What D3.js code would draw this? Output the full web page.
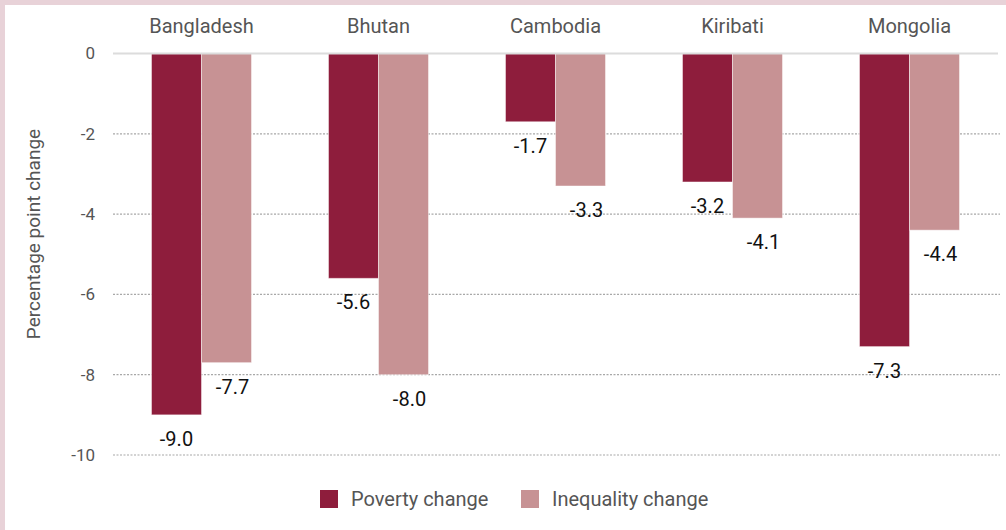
<!DOCTYPE html>
<html>
<head>
<meta charset="utf-8">
<script src="https://cdn.jsdelivr.net/npm/d3@7"></script>
<style>
  html, body { margin: 0; padding: 0; background: #fff; }
  #chart { width: 1006px; height: 530px; }
  text { font-family: "Liberation Sans Narrow", "Roboto", sans-serif; }
</style>
</head>
<body>
<div id="chart"></div>
<script>
// chart values
const countries = ["Bangladesh", "Bhutan", "Cambodia", "Kiribati", "Mongolia"];
const povertyChange = [-9.0, -5.6, -1.7, -3.2, -7.3];
const inequalityChange = [-7.7, -8.0, -3.3, -4.1, -4.4];
const seriesNames = ["Poverty change", "Inequality change"];
const yTicks = [0, -2, -4, -6, -8, -10];

const width = 1006;
const height = 530;
const colors = ["#8e1d3c", "#c79294"];

const svg = d3.select("#chart")
    .append("svg")
    .attr("width", width)
    .attr("height", height);

// pink frame on top and left
svg.append("rect")
    .attr("x", 0).attr("y", 0)
    .attr("width", width).attr("height", height)
    .attr("fill", "#e8d2d8");
svg.append("rect")
    .attr("x", 5).attr("y", 5)
    .attr("width", width - 5).attr("height", height - 5)
    .attr("fill", "#fff");

const x = d3.scaleBand()
    .domain(countries)
    .range([113, 998])
    .paddingInner(0.435)
    .paddingOuter(0.2175);

const xSub = d3.scaleBand()
    .domain(seriesNames)
    .range([0, x.bandwidth()]);

const y = d3.scaleLinear()
    .domain([-10, 0])
    .range([455, 53.5]);

// gridlines
svg.append("g")
    .selectAll("line")
    .data(yTicks.filter(d => d !== 0))
    .enter()
    .append("line")
    .attr("x1", 113)
    .attr("x2", 1000)
    .attr("y1", d => y(d))
    .attr("y2", d => y(d))
    .attr("stroke", "#a8a8a8")
    .attr("stroke-width", 1.2)
    .attr("stroke-dasharray", "2,1.5");

// y tick labels
svg.append("g")
    .selectAll("text")
    .data(yTicks)
    .enter()
    .append("text")
    .attr("x", 95)
    .attr("y", d => y(d))
    .attr("dy", "0.35em")
    .attr("text-anchor", "end")
    .attr("font-size", "17px")
    .attr("fill", "#555")
    .text(d => d);

// y axis title
svg.append("text")
    .attr("transform", "translate(40,234) rotate(-90)")
    .attr("text-anchor", "middle")
    .attr("font-size", "19px")
    .attr("fill", "#555")
    .text("Percentage point change");

// category labels at top
svg.append("g")
    .selectAll("text")
    .data(countries)
    .enter()
    .append("text")
    .attr("x", d => x(d) + x.bandwidth() / 2)
    .attr("y", 33)
    .attr("text-anchor", "middle")
    .attr("font-size", "20px")
    .attr("fill", "#555")
    .text(d => d);

const rows = [];
countries.forEach((c, i) => {
    rows.push({ country: c, series: seriesNames[0], value: povertyChange[i], color: colors[0] });
    rows.push({ country: c, series: seriesNames[1], value: inequalityChange[i], color: colors[1] });
});

// bars
svg.append("g")
    .selectAll("rect")
    .data(rows)
    .enter()
    .append("rect")
    .attr("x", d => x(d.country) + xSub(d.series))
    .attr("y", y(0))
    .attr("width", xSub.bandwidth())
    .attr("height", d => y(d.value) - y(0))
    .attr("fill", d => d.color)
    .attr("stroke", "#fff")
    .attr("stroke-opacity", 0.45)
    .attr("stroke-width", 1);

// zero line
svg.append("line")
    .attr("x1", 113)
    .attr("x2", 998)
    .attr("y1", y(0))
    .attr("y2", y(0))
    .attr("stroke", "#dcdcdc")
    .attr("stroke-width", 2);

// value labels
svg.append("g")
    .selectAll("text")
    .data(rows)
    .enter()
    .append("text")
    .attr("x", d => x(d.country) + xSub(d.series) + xSub.bandwidth() / 2 + (d.series === seriesNames[1] ? 6 : 0))
    .attr("y", d => y(d.value) + 24)
    .attr("dy", "0.35em")
    .attr("text-anchor", "middle")
    .attr("font-size", "20px")
    .attr("fill", "#111")
    .text(d => d.value.toFixed(1));

// legend
const legend = svg.append("g")
    .selectAll("g")
    .data(seriesNames)
    .enter()
    .append("g")
    .attr("transform", (d, i) => `translate(${i === 0 ? 320 : 521},490)`);

legend.append("rect")
    .attr("width", 18)
    .attr("height", 18)
    .attr("fill", (d, i) => colors[i]);

legend.append("text")
    .attr("x", 31)
    .attr("y", 9)
    .attr("dy", "0.35em")
    .attr("font-size", "20px")
    .attr("fill", "#555")
    .text(d => d);
</script>
</body>
</html>
